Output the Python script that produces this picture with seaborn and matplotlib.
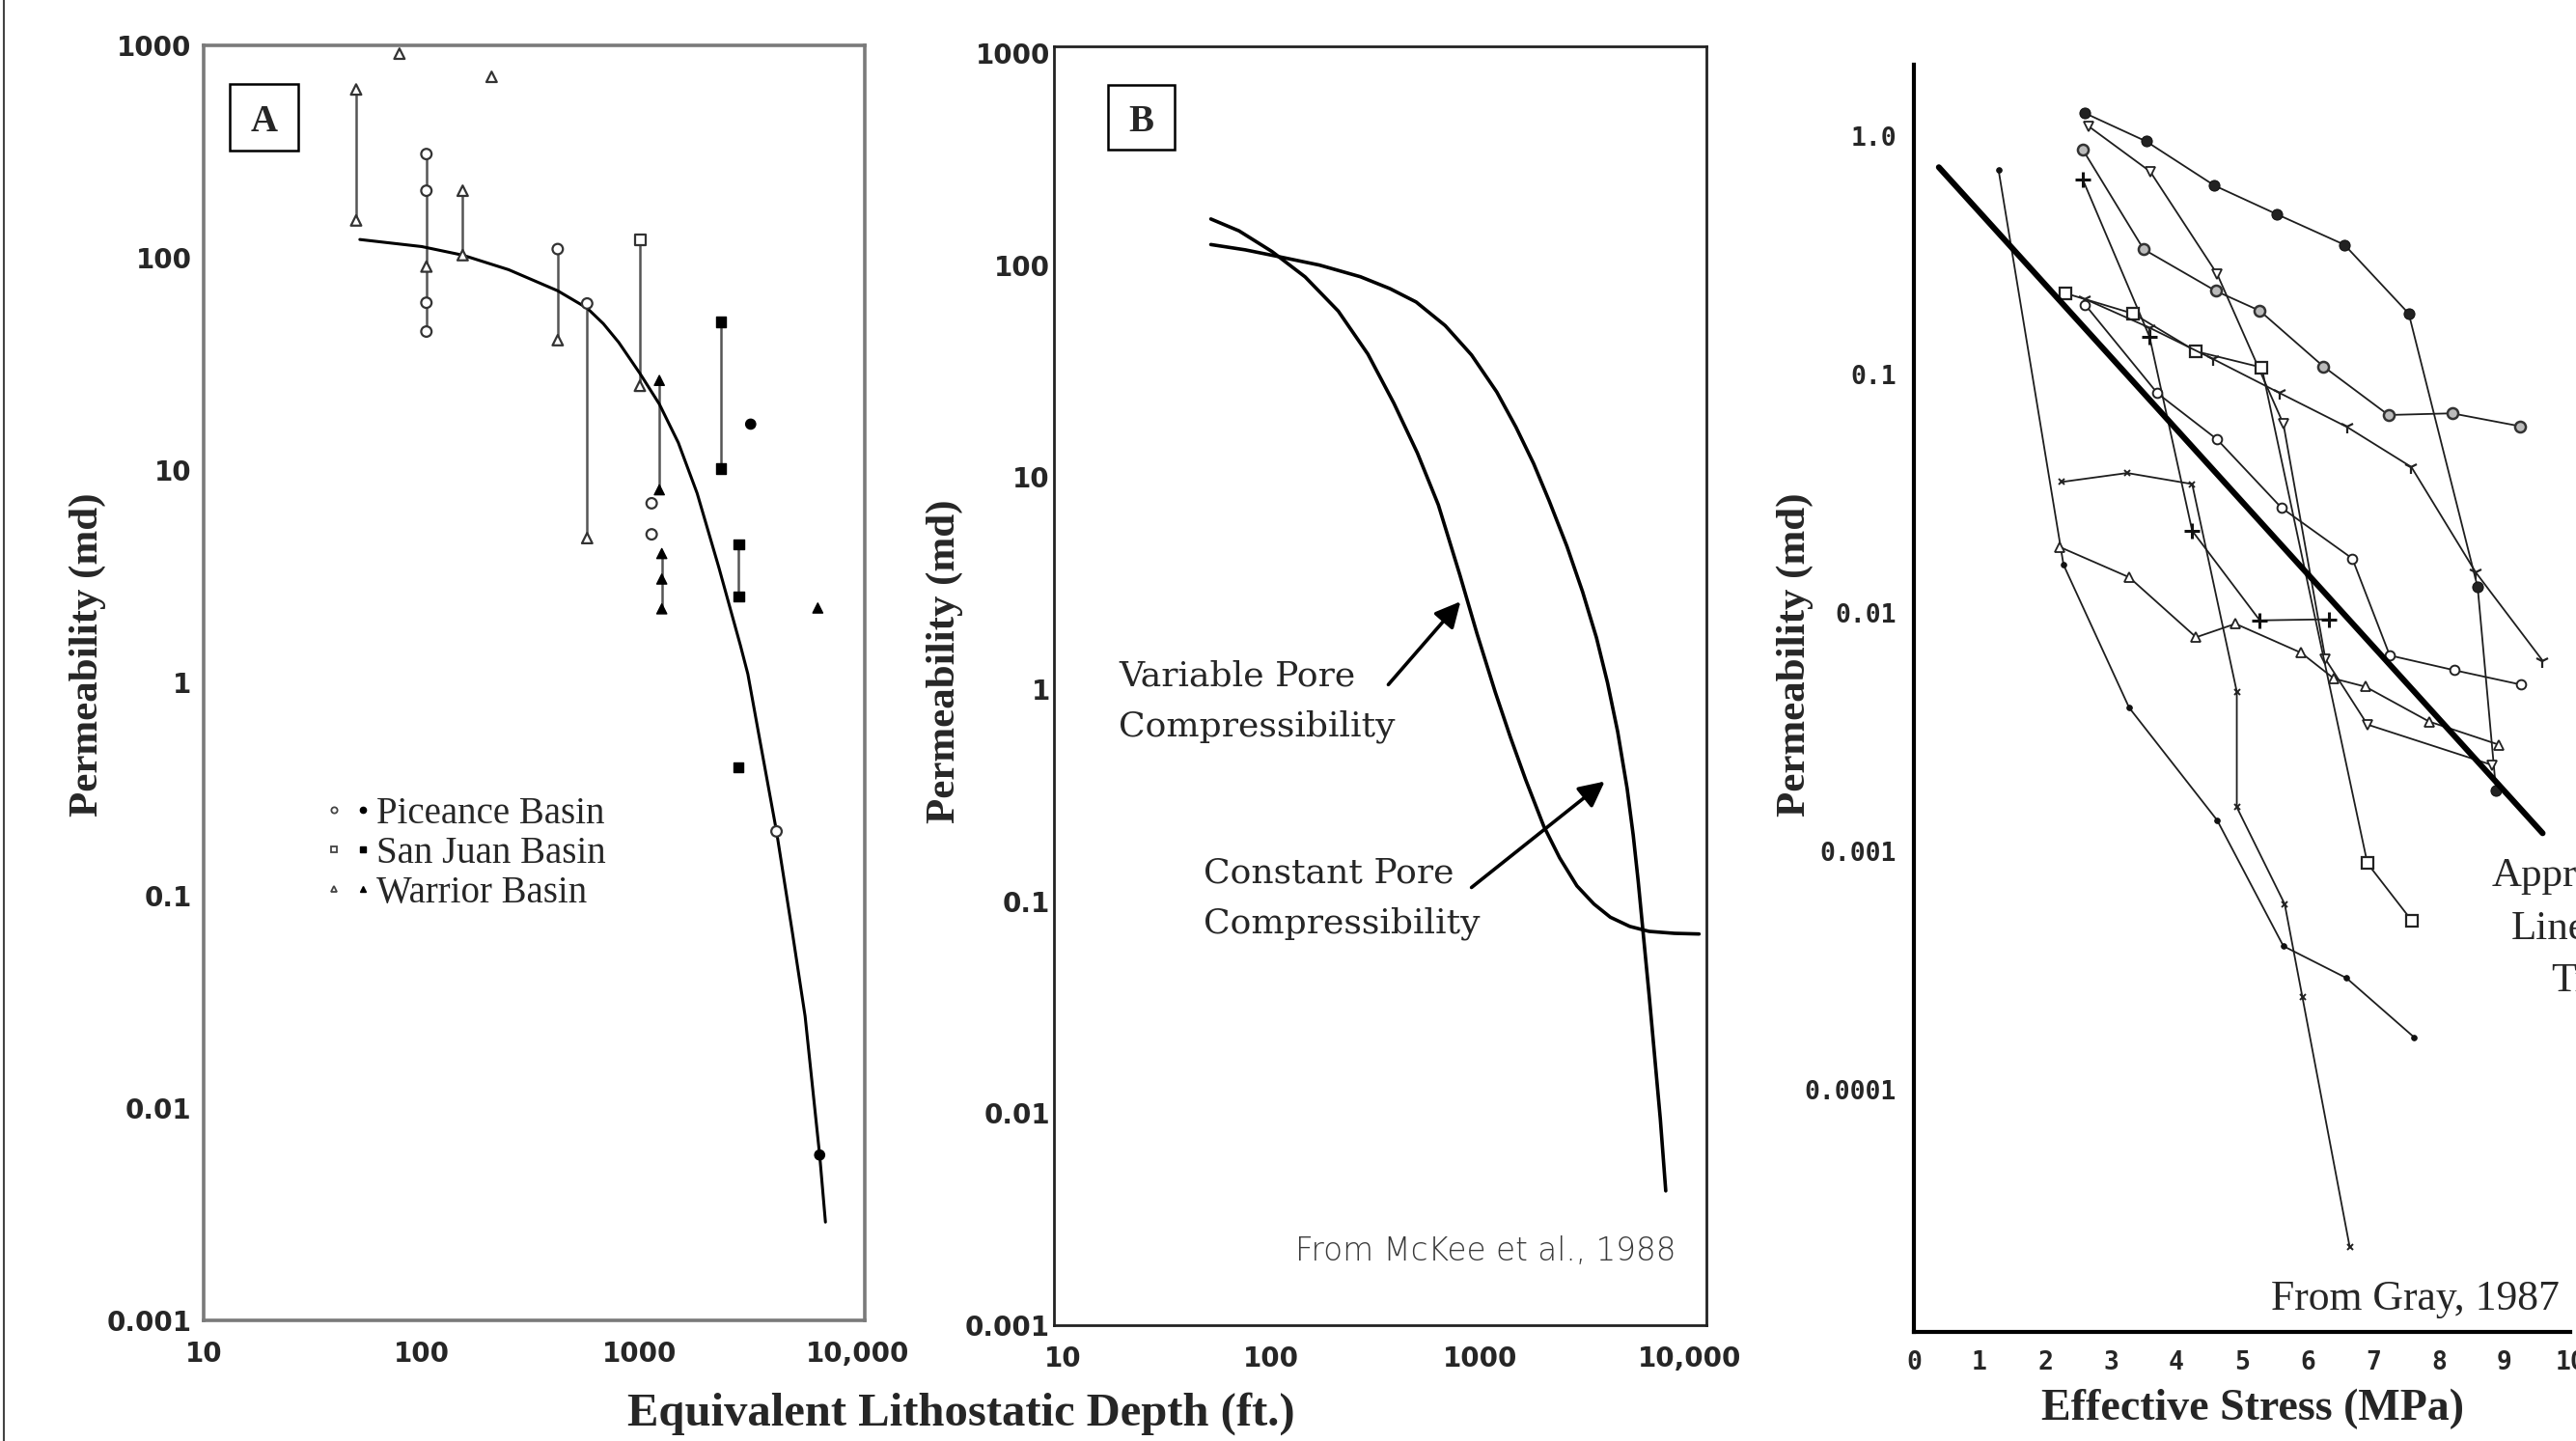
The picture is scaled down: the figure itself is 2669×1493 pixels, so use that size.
import numpy as np
import pandas as pd
import matplotlib
matplotlib.use("Agg")
import matplotlib.pyplot as plt
import seaborn as sns
from matplotlib.lines import Line2D
from matplotlib.patches import Rectangle
from matplotlib.legend_handler import HandlerTuple
from matplotlib.ticker import FixedLocator, NullFormatter

# ---------------- Panel A data (McKee et al., 1988) ----------------
a_curve_depth = [52, 100, 154, 250, 420, 573, 680, 800, 1000, 1228, 1500, 1830, 2300,
                 2890, 3126, 3500, 4230, 5000, 5720, 6670, 7090]
a_curve_perm = [122, 113, 103, 88, 70, 58, 49, 40, 28.6, 20.5, 13.5, 7.8, 3.5,
                1.5, 1.1, 0.58, 0.2, 0.067, 0.027, 0.006, 0.0029]

a_bar_depth = [50, 105, 154, 420, 573, 1005, 1228, 1260, 2350, 2840]
a_bar_low = [150, 45, 103, 41, 4.8, 25, 8.1, 2.23, 10.2, 2.55]
a_bar_high = [620, 308, 207, 110, 61, 122, 26.5, 4.06, 50, 4.5]

a_open_depth = [50, 50, 79, 209, 154, 154, 105, 420, 573, 1000,
                105, 105, 105, 105, 420, 573, 1132, 1132, 4230,
                1005]
a_open_perm = [620, 150, 914, 711, 207, 103, 91, 41, 4.8, 25,
               308, 207, 61.5, 45, 110, 61, 7.0, 5.0, 0.2,
               122]
a_open_basin = ["Warrior"] * 10 + ["Piceance"] * 9 + ["San Juan"]

a_fill_depth = [3220, 6670, 2350, 2350, 2840, 2840, 2830,
                1228, 1228, 1260, 1260, 1260, 6540]
a_fill_perm = [16.5, 0.006, 50, 10.2, 4.5, 2.55, 0.4,
               26.5, 8.1, 4.06, 3.08, 2.23, 2.25]
a_fill_basin = ["Piceance"] * 2 + ["San Juan"] * 5 + ["Warrior"] * 6

basin_names = ["Piceance Basin", "San Juan Basin", "Warrior Basin"]

# ---------------- Panel B data ----------------
b_var_depth = [51.3, 70, 100.5, 145, 209, 290, 386, 500, 630, 800, 966, 1180, 1394,
               1650, 2013, 2400, 2904, 3500, 4195, 5200, 6440, 8500, 11160]
b_var_perm = [165, 145, 116, 88, 60.7, 38, 22.3, 13, 7.4, 3.44, 1.82, 0.968, 0.594,
              0.374, 0.226, 0.16, 0.118, 0.097, 0.084, 0.076, 0.072, 0.0705, 0.070]
b_con_depth = [51.3, 75, 106.6, 170, 267, 370, 493, 680, 908, 1200, 1483, 1800, 2141,
               2600, 3090, 3600, 4070, 4550, 5050, 5400, 5706, 6440, 7280, 7730]
b_con_perm = [125, 118, 110, 100, 88.1, 77.4, 67, 51.8, 37.7, 25.2, 17.2, 11.6, 7.7,
              4.72, 2.88, 1.75, 1.07, 0.63, 0.34, 0.205, 0.124, 0.0358, 0.0094, 0.0043]

# ---------------- Panel C data (Gray, 1987) ----------------
c_fcirc_x = [2.60, 3.54, 4.58, 5.53, 6.56, 7.54, 8.59, 8.87]
c_fcirc_y = [1.25, 0.95, 0.62, 0.47, 0.35, 0.18, 0.0128, 0.0018]
c_tdown_x = [2.66, 3.60, 4.62, 5.63, 6.27, 6.91, 8.81]
c_tdown_y = [1.10, 0.71, 0.264, 0.062, 0.0064, 0.0034, 0.0023]
c_dotc_x = [2.57, 3.50, 4.60, 5.27, 6.24, 7.23, 8.20, 9.23]
c_dotc_y = [0.88, 0.335, 0.224, 0.185, 0.108, 0.0676, 0.0687, 0.0607]
c_plus_x = [2.57, 3.59, 4.24, 5.27, 6.33]
c_plus_y = [0.66, 0.144, 0.0221, 0.0093, 0.0094]
c_sq_x = [2.31, 3.34, 4.30, 5.30, 6.91, 7.59]
c_sq_y = [0.219, 0.18, 0.125, 0.107, 0.00089, 0.00051]
c_yy_x = [2.61, 3.59, 4.56, 5.58, 6.60, 7.58, 8.56, 9.58]
c_yy_y = [0.207, 0.157, 0.116, 0.0834, 0.0602, 0.0409, 0.0148, 0.0063]
c_oc_x = [2.61, 3.71, 4.62, 5.60, 6.68, 7.25, 8.23, 9.25]
c_oc_y = [0.196, 0.0834, 0.0534, 0.0276, 0.0169, 0.00663, 0.00575, 0.005]
c_x_x = [2.25, 3.25, 4.24, 4.92, 4.92, 5.65, 5.92, 6.64]
c_x_y = [0.0354, 0.0386, 0.0347, 0.00467, 0.00153, 0.0006, 0.000244, 2.19e-5]
c_dot_x = [1.29, 2.28, 3.28, 4.62, 5.63, 6.59, 7.62]
c_dot_y = [0.72, 0.0159, 0.004, 0.00135, 0.0004, 0.000294, 0.000166]
c_tri_x = [2.22, 3.28, 4.30, 4.90, 5.90, 6.40, 6.88, 7.85, 8.91]
c_tri_y = [0.0189, 0.0141, 0.0079, 0.0090, 0.0068, 0.0053, 0.0049, 0.0035, 0.0028]
c_trend_x = [0.38, 9.58]
c_trend_y = [0.74, 0.00119]

# tick labels
ab_xticks = [10, 100, 1000, 10000]
ab_xlabels = ["10", "100", "1000", "10,000"]
ab_yticks = [1e-3, 1e-2, 1e-1, 1, 10, 100, 1000]
ab_ylabels = ["0.001", "0.01", "0.1", "1", "10", "100", "1000"]
c_yticks = [1e-4, 1e-3, 1e-2, 1e-1, 1.0]
c_ylabels = ["0.0001", "0.001", "0.01", "0.1", "1.0"]
c_xticks = list(range(0, 11))
c_xlabels = [str(v) for v in c_xticks]

# ---------------- figure ----------------
sns.set_style("white")
plt.rcParams["font.family"] = ["Liberation Serif", "DejaVu Serif"]

W, H = 2669, 1493
fig = plt.figure(figsize=(W / 100, H / 100), dpi=100)
fig.patch.set_facecolor("white")


def fx(px):
    return px / W


def fy(py):
    return 1 - py / H


axA = fig.add_axes([fx(211), fy(1368), (896 - 211) / W, (1368 - 47) / H])
axB = fig.add_axes([fx(1092), fy(1373), (1768 - 1092) / W, (1373 - 48) / H])
axC = fig.add_axes([fx(1983), fy(1380), (2663 - 1983) / W, (1380 - 67) / H])

tick_font = dict(fontsize=20, fontweight="bold", fontfamily="DejaVu Sans")
minor_subs = [2, 3, 4, 5, 6, 7, 8, 9]

for ax, xlim, ylim, spc, spw in ((axA, (10, 10740), (1e-3, 1e3), "#7a7a7a", 2.6),
                                 (axB, (9.1, 12100), (1e-3, 1076), "#222222", 2.0)):
    ax.set_xscale("log")
    ax.set_yscale("log")
    ax.set_xlim(*xlim)
    ax.set_ylim(*ylim)
    ax.set_xticks(ab_xticks, ab_xlabels, **tick_font)
    ax.set_yticks(ab_yticks, ab_ylabels, **tick_font)
    xm = [m * d for d in (10, 100, 1000) for m in minor_subs]
    ym = [m * d for d in (1e-3, 1e-2, 1e-1, 1, 10, 100) for m in minor_subs]
    ax.xaxis.set_minor_locator(FixedLocator(xm))
    ax.yaxis.set_minor_locator(FixedLocator(ym))
    ax.xaxis.set_minor_formatter(NullFormatter())
    ax.yaxis.set_minor_formatter(NullFormatter())
    for s in ax.spines.values():
        s.set_color(spc)
        s.set_linewidth(spw)
    ax.tick_params(which="both", direction="in", color="#444", width=1.6,
                   top=False, right=False)
    ax.tick_params(which="major", length=7)
    ax.tick_params(which="minor", length=6)
    ax.tick_params(axis="x", pad=15)

axA.tick_params(axis="y", pad=9)
axB.tick_params(axis="y", pad=3)

# ---- Panel A ----
axA.vlines(a_bar_depth, a_bar_low, a_bar_high, color="#555555", lw=1.8, zorder=2)
sns.lineplot(x=a_curve_depth, y=a_curve_perm, ax=axA, color="black", lw=2.2,
             sort=False, estimator=None, zorder=3)
marker_map = {"Piceance": "o", "San Juan": "s", "Warrior": "^"}
df_open = pd.DataFrame({"depth": a_open_depth, "perm": a_open_perm, "basin": a_open_basin})
df_fill = pd.DataFrame({"depth": a_fill_depth, "perm": a_fill_perm, "basin": a_fill_basin})
sns.scatterplot(data=df_open, x="depth", y="perm", style="basin", markers=marker_map,
                color="white", edgecolor="#333333", linewidth=1.6, s=60,
                legend=False, ax=axA, zorder=4)
sns.scatterplot(data=df_fill, x="depth", y="perm", style="basin", markers=marker_map,
                color="black", edgecolor="black", linewidth=1.0, s=55,
                legend=False, ax=axA, zorder=4)
axA.set_xlabel("")
axA.set_ylabel("")

handles = []
for mk in ("o", "s", "^"):
    h_open = Line2D([], [], ls="none", marker=mk, ms=4.5, mfc="white", mec="#444", mew=1.3)
    h_fill = Line2D([], [], ls="none", marker=mk, ms=4.5, mfc="black", mec="black")
    handles.append((h_open, h_fill))
axA.legend(handles, basin_names, handler_map={tuple: HandlerTuple(ndivide=None, pad=0.3)},
           loc="upper left", bbox_to_anchor=(0.185, 0.411), frameon=False,
           prop=dict(family="Liberation Serif", size=28), labelspacing=0.1,
           handlelength=1.2, handletextpad=0.15, borderpad=0, borderaxespad=0)

axA.add_patch(Rectangle((0.0394, 0.9175), 0.1036, 0.0522, transform=axA.transAxes,
                        fill=False, lw=1.8, ec="black", zorder=5))
axA.text(0.0912, 0.9436, "A", transform=axA.transAxes, ha="center", va="center_baseline",
         fontsize=28, fontweight="bold", family="Liberation Serif")

# ---- Panel B ----
sns.lineplot(x=b_var_depth, y=b_var_perm, ax=axB, color="black", lw=2.6,
             sort=False, estimator=None)
sns.lineplot(x=b_con_depth, y=b_con_perm, ax=axB, color="black", lw=2.6,
             sort=False, estimator=None)
axB.set_xlabel("")
axB.set_ylabel("")
arrow_kw = dict(arrowstyle="-|>", color="black", lw=2.6, mutation_scale=40,
                shrinkA=0, shrinkB=0)
axB.annotate("", xy=(805, 2.59), xytext=(363, 1.05), arrowprops=arrow_kw)
axB.annotate("", xy=(3945, 0.367), xytext=(908, 0.116), arrowprops=arrow_kw)
axB.add_patch(Rectangle((0.083, 0.919), 0.102, 0.051, transform=axB.transAxes,
                        fill=False, lw=1.8, ec="black", zorder=5))
axB.text(0.134, 0.9445, "B", transform=axB.transAxes, ha="center", va="center_baseline",
         fontsize=28, fontweight="bold", family="Liberation Serif")

fig.text(fx(1159), fy(727), "Variable Pore\nCompressibility", ha="left", va="center",
         fontsize=26, family="DejaVu Serif", linespacing=1.65)
fig.text(fx(1247), fy(931), "Constant Pore\nCompressibility", ha="left", va="center",
         fontsize=26, family="DejaVu Serif", linespacing=1.65)
fig.text(fx(1342), fy(1297), "From McKee et al., 1988", ha="left", va="center",
         fontsize=23.5, family="DejaVu Sans", fontweight=200, color="#3a3a3a")

# ---- Panel C ----
axC.set_yscale("log")
axC.set_xlim(0, 10)
axC.set_ylim(9.63e-6, 1.993)
line_col = "#1e1e1e"
c_styles = [
    (c_fcirc_x, c_fcirc_y, dict(marker="o", markersize=8, markerfacecolor="#222", markeredgecolor="#111")),
    (c_tdown_x, c_tdown_y, dict(marker="v", markersize=7, markerfacecolor="white", markeredgecolor="#222", markeredgewidth=1.3)),
    (c_dotc_x, c_dotc_y, dict(marker="o", markersize=8, markerfacecolor="#bbbbbb", markeredgecolor="#333", markeredgewidth=1.8)),
    (c_plus_x, c_plus_y, dict(marker="+", markersize=11, markeredgecolor="#111", markeredgewidth=2.2)),
    (c_sq_x, c_sq_y, dict(marker="s", markersize=8, markerfacecolor="white", markeredgecolor="#222", markeredgewidth=1.6)),
    (c_yy_x, c_yy_y, dict(marker="1", markersize=10, markeredgecolor="#222", markeredgewidth=1.6)),
    (c_oc_x, c_oc_y, dict(marker="o", markersize=7, markerfacecolor="white", markeredgecolor="#222", markeredgewidth=1.4)),
    (c_x_x, c_x_y, dict(marker="x", markersize=5, markeredgecolor="#222", markeredgewidth=1.4)),
    (c_dot_x, c_dot_y, dict(marker="o", markersize=4, markerfacecolor="#111", markeredgecolor="#111")),
    (c_tri_x, c_tri_y, dict(marker="^", markersize=7, markerfacecolor="white", markeredgecolor="#222", markeredgewidth=1.3)),
]
for xs, ys, st in c_styles:
    sns.lineplot(x=xs, y=ys, ax=axC, color=line_col, lw=1.3, sort=False,
                 estimator=None, **st)
sns.lineplot(x=c_trend_x, y=c_trend_y, ax=axC, color="black", lw=4.4, sort=False,
             estimator=None, zorder=5)
axC.set_xlabel("")
axC.set_ylabel("")
for side in ("top", "right"):
    axC.spines[side].set_visible(False)
for side in ("left", "bottom"):
    axC.spines[side].set_color("black")
    axC.spines[side].set_linewidth(3)
c_font_y = dict(fontsize=19, fontweight="bold", fontfamily="DejaVu Sans Mono")
c_font_x = dict(fontsize=19, fontweight="bold", fontfamily="DejaVu Sans Mono")
axC.set_yticks(c_yticks, c_ylabels, **c_font_y)
axC.set_xticks(c_xticks, c_xlabels, **c_font_x)
axC.yaxis.set_minor_locator(FixedLocator([10 ** (k / 10) for k in range(-50, 4) if k % 10 != 0]))
axC.yaxis.set_minor_formatter(NullFormatter())
axC.tick_params(axis="y", which="major", direction="out", length=12, width=2.2, pad=1)
axC.tick_params(axis="y", which="minor", direction="out", length=8, width=2.2)
axC.tick_params(axis="x", which="major", direction="out", length=7, width=2.5, pad=7)
axC.tick_params(axis="x", which="minor", length=0)

fig.text(fx(2652), fy(1357), "From Gray, 1987", ha="right", va="baseline",
         fontsize=31.5, family="Liberation Serif")
trend_kw = dict(ha="left", va="baseline", fontsize=31, family="Liberation Serif")
fig.text(fx(2582), fy(918), "Approximate", **trend_kw)
fig.text(fx(2602), fy(973), "Linear", **trend_kw)
fig.text(fx(2643), fy(1027), "Trend", **trend_kw)

# ---- axis titles ----
ylab_kw = dict(rotation=90, ha="center", va="center", fontsize=31, fontweight="bold",
               family="Liberation Serif")
fig.text(fx(91), fy(678), "Permeability (md)", **ylab_kw)
fig.text(fx(979), fy(685), "Permeability (md)", **ylab_kw)
fig.text(fx(1860), fy(678), "Permeability (md)", **ylab_kw)
fig.text(fx(996), fy(1465), "Equivalent Lithostatic Depth (ft.)", ha="center", va="center",
         fontsize=35, fontweight="bold", family="Liberation Serif")
fig.text(fx(2334), fy(1460), "Effective Stress (MPa)", ha="center", va="center",
         fontsize=33, fontweight="bold", family="Liberation Serif")

# outer left frame line
fig.add_artist(Line2D([4 / W, 4 / W], [0, 1], color="#444444", lw=1.5,
                      transform=fig.transFigure))

fig.savefig("out.png", dpi=100, facecolor="white")
